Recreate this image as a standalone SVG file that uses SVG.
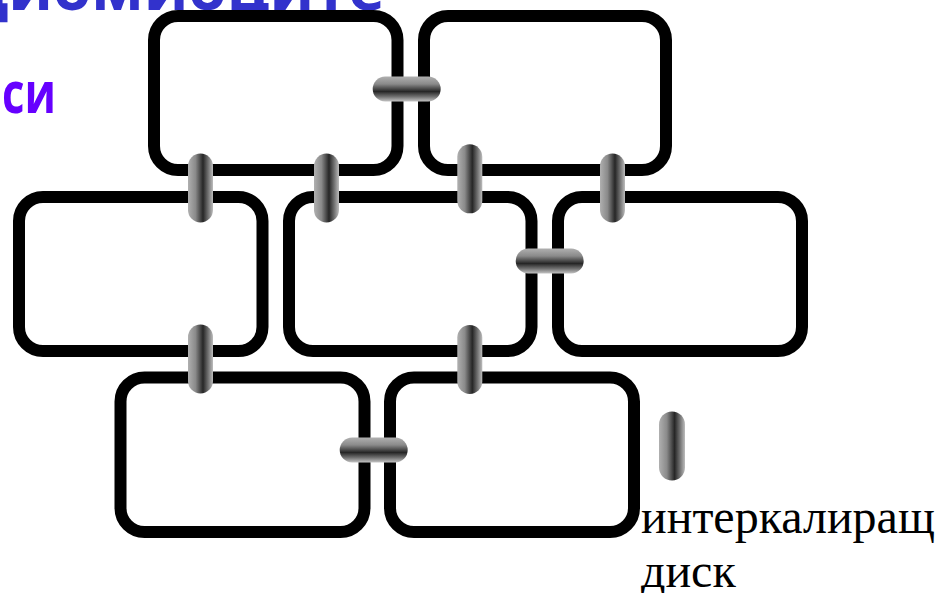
<svg xmlns="http://www.w3.org/2000/svg" width="939" height="593" viewBox="0 0 939 593">
  <style>
    .cell { fill: #ffffff; stroke: #000000; stroke-width: 12; }
    .vdisc { fill: url(#gv); }
    .hdisc { fill: url(#gh); }
    .title { font-family: "Open Sans", "Noto Sans", sans-serif; font-weight: bold; }
    .label { font-family: "Liberation Serif", "Times New Roman", serif; font-size: 48px; fill: #000000; }
  </style>
  <defs>
    <linearGradient id="gv" x1="0" y1="0" x2="1" y2="0">
      <stop offset="0" stop-color="#b0b0b0"/>
      <stop offset="0.3" stop-color="#8a8a8a"/>
      <stop offset="0.6" stop-color="#262626"/>
      <stop offset="0.8" stop-color="#6e6e6e"/>
      <stop offset="1" stop-color="#bdbdbd"/>
    </linearGradient>
    <linearGradient id="gh" x1="0" y1="0" x2="0" y2="1">
      <stop offset="0" stop-color="#b0b0b0"/>
      <stop offset="0.3" stop-color="#8a8a8a"/>
      <stop offset="0.6" stop-color="#262626"/>
      <stop offset="0.8" stop-color="#6e6e6e"/>
      <stop offset="1" stop-color="#c4c4c4"/>
    </linearGradient>
  </defs>

  <g id="heading">
    <text class="title" x="385" y="10" font-size="62" fill="#3232cc" text-anchor="end">Кардиомиоците</text>
    <text class="title" x="2" y="113" font-size="58" fill="#6600ff" textLength="54" lengthAdjust="spacingAndGlyphs">си</text>
  </g>

  <g id="cell-1"><rect class="cell" x="154" y="16" width="243.5" height="154" rx="24"/></g>
  <g id="cell-2"><rect class="cell" x="424" y="16" width="242" height="154" rx="24"/></g>
  <g id="cell-3"><rect class="cell" x="19" y="197" width="243.5" height="154" rx="24"/></g>
  <g id="cell-4"><rect class="cell" x="289" y="197" width="242.5" height="154" rx="24"/></g>
  <g id="cell-5"><rect class="cell" x="558" y="197" width="244" height="154" rx="24"/></g>
  <g id="cell-6"><rect class="cell" x="120.5" y="377.5" width="244" height="154.5" rx="24"/></g>
  <g id="cell-7"><rect class="cell" x="390" y="377.5" width="244" height="154.5" rx="24"/></g>

  <g id="connectors">
    <rect class="hdisc" x="372.7" y="76.5" width="68" height="25" rx="12.5"/>
    <rect class="vdisc" x="188" y="153.5" width="25" height="69" rx="12.5"/>
    <rect class="vdisc" x="314" y="153.5" width="25" height="69" rx="12.5"/>
    <rect class="vdisc" x="457.3" y="144.3" width="25" height="69" rx="12.5"/>
    <rect class="vdisc" x="600" y="153.5" width="25" height="69" rx="12.5"/>
    <rect class="hdisc" x="515.7" y="248.5" width="68" height="25" rx="12.5"/>
    <rect class="vdisc" x="188" y="324.5" width="25" height="69" rx="12.5"/>
    <rect class="vdisc" x="457.3" y="325" width="25" height="69" rx="12.5"/>
    <rect class="hdisc" x="339.7" y="437.5" width="68" height="25" rx="12.5"/>
  </g>

  <g id="legend">
    <rect class="vdisc" x="659" y="411.5" width="26" height="69" rx="13"/>
    <text class="label" x="641" y="533">интеркалиращ</text>
    <text class="label" x="641" y="587">диск</text>
  </g>
</svg>
